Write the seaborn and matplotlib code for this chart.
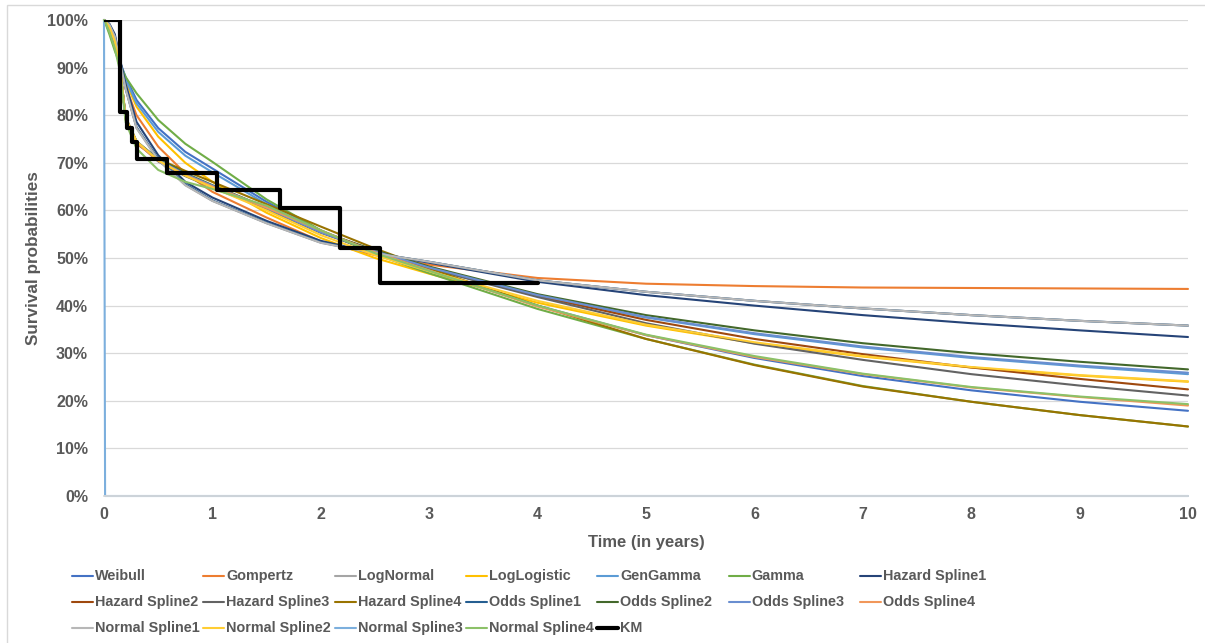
import numpy as np
import pandas as pd
import matplotlib
matplotlib.use("Agg")
import matplotlib.pyplot as plt
from matplotlib.lines import Line2D
from matplotlib.patches import Rectangle
from matplotlib.ticker import FuncFormatter
import seaborn as sns

# ---- data -------------------------------------------------------------
time = [0, 0.01, 0.05, 0.1, 0.15, 0.2, 0.3, 0.5, 0.75, 1, 1.5, 2, 2.5, 3,
        4, 5, 6, 7, 8, 9, 10]

weibull = [100, 99.6, 97.8, 94.5, 91, 88, 83.2, 77.3, 72.3, 68.8, 61.8, 55.8,
           51.2, 47.3, 40.0, 33.8, 29.0, 25.2, 22.2, 19.8, 17.9]
gompertz = [100, 99.8, 98.5, 95.5, 91, 86, 80.0, 73.4, 67.8, 63.9, 58.5, 53.5,
            50.6, 48.6, 45.8, 44.6, 44.1, 43.8, 43.7, 43.6, 43.5]
lognormal = [100, 99.9, 99.0, 96.5, 91, 85.5, 77.3, 70.6, 65.3, 62.0, 57.3,
             53.2, 51.0, 49.2, 45.3, 42.9, 41.0, 39.4, 38.0, 36.8, 35.8]
loglogistic = [100, 99.7, 98.2, 95.0, 91, 87, 81.8, 75.5, 70.0, 66.0, 59.5,
               54.2, 50.0, 46.7, 40.6, 35.8, 32.1, 29.3, 27.0, 25.3, 24.0]
gengamma = [100, 99.7, 98.0, 94.8, 91, 87.5, 82.5, 76.5, 71.5, 68.0, 61.3,
            55.5, 51.2, 47.8, 42.0, 37.5, 34.0, 31.2, 29.0, 27.2, 25.6]
gamma = [100, 99.5, 97.0, 93.5, 90.5, 88, 84.6, 79.0, 74.0, 70.2, 62.3, 55.8,
         50.8, 46.8, 39.3, 33.0, 27.6, 23.1, 19.8, 17.0, 14.6]
hazard_spline1 = [100, 99.9, 99.2, 97, 91.5, 86.5, 78.6, 71.6, 66.0, 62.7,
                  57.8, 53.6, 51.0, 49.0, 45.0, 42.2, 40.0, 38.0, 36.3, 34.8,
                  33.4]
hazard_spline2 = [100, 99.8, 98.5, 95.5, 89.5, 79.5, 74.5, 70.5, 67.5, 65.0,
                  60.5, 55.5, 51.5, 48.0, 42.0, 37.0, 33.0, 29.8, 27.0, 24.6,
                  22.4]
hazard_spline3 = [100, 99.8, 98.5, 95.5, 89.5, 79.3, 74.3, 70.3, 67.2, 64.8,
                  60.3, 55.3, 51.3, 47.8, 41.8, 36.3, 32.0, 28.6, 25.6, 23.2,
                  21.1]
hazard_spline4 = [100, 99.8, 98.5, 95.5, 89.5, 79.0, 74.0, 70.8, 68.3, 66.0,
                  61.3, 56.6, 52.0, 47.8, 40.0, 33.0, 27.5, 23.0, 19.8, 17.0,
                  14.6]
odds_spline1 = [100, 99.9, 99.0, 96.5, 91, 85.5, 77.5, 70.8, 65.5, 62.1, 57.4,
                53.3, 51.0, 49.2, 45.3, 42.9, 41.0, 39.4, 38.0, 36.8, 35.8]
odds_spline2 = [100, 99.8, 98.5, 95.5, 89.5, 79.5, 74.5, 70.8, 67.8, 65.3,
                60.6, 55.6, 51.6, 48.2, 42.4, 38.0, 34.8, 32.1, 30.0, 28.2,
                26.6]
odds_spline3 = [100, 99.8, 98.5, 95.5, 89.5, 79.5, 74.5, 70.6, 67.6, 65.2,
                60.5, 55.4, 51.4, 48.0, 42.2, 37.6, 34.2, 31.4, 29.2, 27.4,
                25.9]
odds_spline4 = [100, 99.8, 98.5, 95.5, 89.5, 79.2, 74.2, 70.4, 67.4, 65.0,
                60.6, 55.8, 51.2, 47.4, 39.8, 33.8, 29.2, 25.6, 22.8, 20.8,
                19.0]
normal_spline1 = [100, 99.9, 99.0, 96.5, 91, 85.5, 77.3, 70.6, 65.3, 62.0,
                  57.3, 53.2, 51.0, 49.2, 45.3, 42.9, 41.0, 39.4, 38.0, 36.8,
                  35.8]
normal_spline2 = [100, 99.8, 98.5, 95.5, 89.5, 79.5, 74.5, 70.5, 67.3, 64.8,
                  60.0, 54.8, 50.6, 47.2, 41.0, 36.0, 32.3, 29.4, 27.1, 25.4,
                  24.1]
normal_spline3 = [100, 0, 0, 0, 0, 0, 0, 0, 0, 0, 0, 0, 0, 0, 0, 0, 0, 0, 0,
                  0, 0]
normal_spline4 = [100, 99.6, 97.5, 94.0, 89.0, 78.5, 73.0, 68.5, 66.0, 64.5,
                  61.0, 55.8, 51.0, 47.3, 40.0, 33.9, 29.4, 25.7, 22.9, 20.9,
                  19.3]

km_time = [0, 0.148, 0.215, 0.26, 0.306, 0.578, 1.04, 1.62, 2.18, 2.55, 4.0]
km_surv = [100, 80.7, 77.4, 74.4, 70.9, 67.8, 64.3, 60.6, 52.0, 44.7, 44.7]

series_names = ["Weibull", "Gompertz", "LogNormal", "LogLogistic", "GenGamma",
                "Gamma", "Hazard Spline1", "Hazard Spline2", "Hazard Spline3",
                "Hazard Spline4", "Odds Spline1", "Odds Spline2",
                "Odds Spline3", "Odds Spline4", "Normal Spline1",
                "Normal Spline2", "Normal Spline3", "Normal Spline4"]
series_values = [weibull, gompertz, lognormal, loglogistic, gengamma, gamma,
                 hazard_spline1, hazard_spline2, hazard_spline3,
                 hazard_spline4, odds_spline1, odds_spline2, odds_spline3,
                 odds_spline4, normal_spline1, normal_spline2, normal_spline3,
                 normal_spline4]
series_colors = ["#4472C4", "#ED7D31", "#A5A5A5", "#FFC000", "#5B9BD5",
                 "#70AD47", "#264478", "#9E480E", "#636363", "#997300",
                 "#255E91", "#43682B", "#698ED0", "#F1975A", "#B7B7B7",
                 "#FFCD33", "#7CAFDD", "#8CC168"]

y_ticks = [0, 10, 20, 30, 40, 50, 60, 70, 80, 90, 100]
x_ticks = [0, 1, 2, 3, 4, 5, 6, 7, 8, 9, 10]

# ---- styling ------------------------------------------------------------
sns.set_theme(style="white")
plt.rcParams["font.family"] = ["Liberation Sans", "DejaVu Sans"]
plt.rcParams["font.weight"] = "bold"
TXT = "#595959"

W, H = 1205, 643
fig = plt.figure(figsize=(W / 100, H / 100), dpi=100)
ax = fig.add_axes([104 / W, 1 - 496 / H, (1188 - 104) / W, (496 - 20) / H])

long = pd.DataFrame({
    "time": np.tile(time, len(series_names)),
    "surv": np.concatenate(series_values),
    "model": np.repeat(series_names, len(time)),
})
palette = dict(zip(series_names, series_colors))

for name in series_names:
    sub = long[long["model"] == name]
    sns.lineplot(data=sub, x="time", y="surv", color=palette[name],
                 linewidth=1.5, ax=ax, sort=False, estimator=None,
                 legend=False, clip_on=False)

km = pd.DataFrame({"time": km_time, "surv": km_surv})
sns.lineplot(data=km, x="time", y="surv", color="black", linewidth=3,
             drawstyle="steps-post", ax=ax, sort=False, estimator=None,
             legend=False, zorder=5)

ax.set_xlim(0, 10)
ax.set_ylim(0, 100)
ax.set_xticks(x_ticks)
ax.set_yticks(y_ticks)
ax.yaxis.set_major_formatter(FuncFormatter(lambda v, _: f"{v:.0f}%"))
ax.grid(False)
ax.yaxis.grid(True, color="#D9D9D9", linewidth=0.9)
ax.set_axisbelow(True)
for s in ["top", "right", "left"]:
    ax.spines[s].set_visible(False)
ax.spines["bottom"].set_color("#D9D9D9")
ax.tick_params(axis="both", length=0, labelsize=11.5, labelcolor=TXT)
ax.tick_params(axis="y", pad=11.5)
ax.tick_params(axis="x", pad=8)
for lab in ax.get_xticklabels() + ax.get_yticklabels():
    lab.set_fontweight("bold")

ax.set_xlabel("Time (in years)", fontsize=12, fontweight="bold", color=TXT,
              labelpad=9)
ax.set_ylabel("Survival probabilities", fontsize=12.3, fontweight="bold",
              color=TXT, va="center")
ax.yaxis.set_label_coords((34 - 104) / (1188 - 104), 0.5)

# chart-area frame
fig.add_artist(Rectangle((7 / W, -0.1), 1.2, 1 - 5 / H + 0.1,
                         transform=fig.transFigure, fill=False,
                         edgecolor="#D9D9D9", linewidth=1))

# legend: 7 equally spaced columns, 3 rows
legend_names = series_names + ["KM"]
legend_colors = series_colors + ["black"]
col_x0, col_step = 72, 131.3
row_y0, row_step = 576, 26
for i, (name, col) in enumerate(zip(legend_names, legend_colors)):
    r, c = divmod(i, 7)
    x = col_x0 + c * col_step
    y = row_y0 + r * row_step
    lw = 3 if name == "KM" else 1.5
    fig.add_artist(Line2D([x / W, (x + 21) / W], [1 - y / H, 1 - y / H],
                          transform=fig.transFigure, color=col, linewidth=lw))
    fig.text((x + 23) / W, 1 - y / H, name, fontsize=10.4, fontweight="bold",
             color=TXT, va="center", ha="left")

fig.savefig("out.png", dpi=100)
